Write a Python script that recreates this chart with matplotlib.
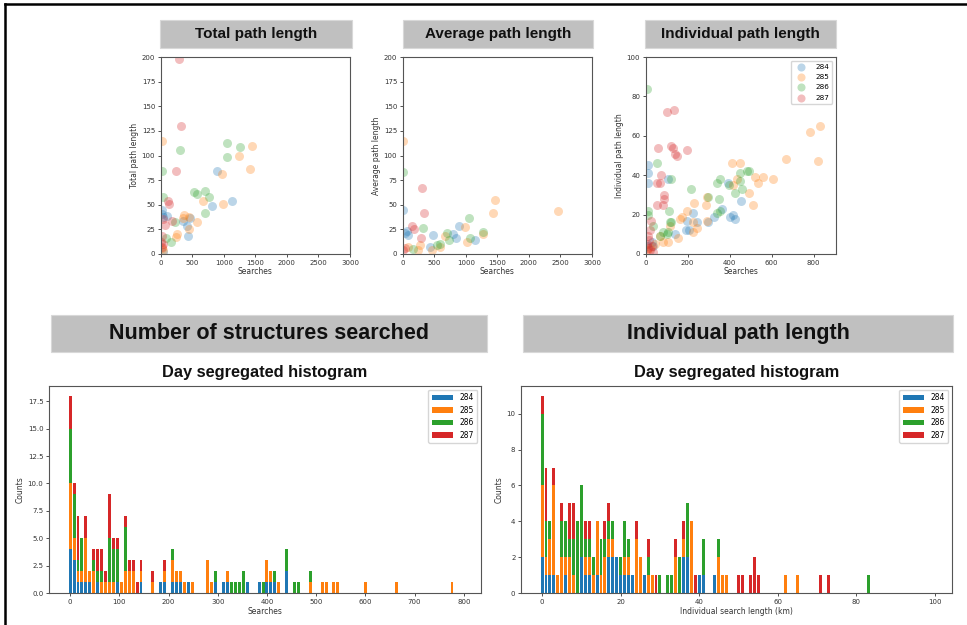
import numpy as np
import matplotlib
matplotlib.use("Agg")
import matplotlib.pyplot as plt
from matplotlib.patches import Rectangle

W, H = 967, 625
days = ["284", "285", "286", "287"]
colors = ["#1f77b4", "#ff7f0e", "#2ca02c", "#d62728"]

# ---- scatter: total path length vs searches ----
tot_x = {
    "284": [887, 814, 1125, 470, 412, 428, 349, 16, 42, 95, 16, 32],
    "285": [16, 1442, 1247, 1416, 977, 993, 666, 581, 370, 359, 454, 454, 254, 243, 16, 32],
    "286": [16, 306, 1046, 1056, 1257, 528, 581, 703, 771, 703, 42, 227, 164, 85],
    "287": [296, 322, 243, 111, 137, 69, 40, 174, 16, 16, 10, 30],
}
tot_y = {
    "284": [84, 49, 54, 37, 28, 18, 33, 45, 38, 39, 41, 2],
    "285": [115, 110, 100, 86, 81, 51, 54, 32, 40, 37, 38, 25, 20, 17, 6, 4],
    "286": [84, 106, 113, 98, 109, 63, 61, 64, 58, 42, 58, 32, 12, 16],
    "287": [198, 130, 84, 54, 51, 29, 36, 33, 18, 7, 12, 10],
}

# ---- scatter: average path length vs searches ----
avg_x = {
    "284": [11, 899, 841, 1138, 476, 63, 79, 37, 794, 434],
    "285": [0, 1455, 1429, 2460, 989, 1016, 1265, 672, 593, 460, 249, 275, 90],
    "286": [11, 1058, 328, 698, 740, 593, 1069, 1270, 159, 545],
    "287": [302, 333, 148, 175, 296, 37, 11],
}
avg_y = {
    "284": [45, 28, 16, 14, 19, 23, 19, 21, 20, 7],
    "285": [115, 55, 42, 44, 27, 12, 20, 18, 7, 4, 4, 9, 7],
    "286": [83, 37, 26, 21, 14, 10, 16, 22, 5, 9],
    "287": [67, 42, 28, 25, 16, 6, 4],
}

# ---- scatter: individual path length vs searches ----
ind_x = {
    "284": [10, 13, 10, 108, 394, 402, 418, 426, 453, 224, 199, 192, 204, 243, 299, 323, 363, 140, 29, 5, 37],
    "285": [831, 781, 820, 669, 606, 558, 521, 537, 490, 513, 450, 410, 434, 418, 232, 291, 288, 291,
            243, 224, 199, 172, 164, 156, 116, 21, 45, 5, 84, 108, 68, 227],
    "286": [8, 56, 119, 215, 299, 339, 355, 351, 399, 426, 450, 482, 494, 458, 450, 111, 119, 116,
            13, 13, 37, 100, 84, 68, 339, 355, 108],
    "287": [100, 135, 60, 121, 129, 140, 148, 196, 73, 68, 56, 87, 87, 52, 84, 21, 25, 13, 5, 10,
            21, 37, 15, 30],
}
ind_y = {
    "284": [45, 41, 36, 38, 36, 19, 20, 18, 27, 21, 17, 12, 12, 16, 16, 19, 23, 10, 6, 4, 4],
    "285": [65, 62, 47, 48, 38, 39, 39, 36, 31, 25, 46, 46, 38, 35, 26, 29, 25, 17,
            13, 11, 22, 19, 18, 8, 14, 3, 5, 2, 6, 6, 9, 16],
    "286": [84, 46, 38, 33, 29, 36, 38, 28, 35, 31, 41, 42, 42, 33, 37, 22, 16, 16,
            22, 20, 14, 10, 11, 9, 21, 22, 11],
    "287": [72, 73, 54, 55, 54, 51, 50, 53, 40, 36, 36, 30, 28, 25, 25, 12, 17, 9, 5, 3,
            2, 1, 7, 4],
}

# ---- histogram: number of structures searched (bin width 8) ----
srch_bins = [0, 1, 2, 3, 4, 5, 6, 7, 8, 9, 10, 11, 12, 13, 14, 15, 16, 17, 18, 21, 23, 24, 26, 27,
             28, 29, 30, 31, 35, 36, 37, 39, 40, 41, 42, 43, 44, 45, 48, 49, 50, 51, 52, 53, 55,
             57, 58, 61, 64, 65, 67, 68, 75, 83, 97]
srch_284 = [4, 3, 1, 1, 1, 1, 0, 1, 0, 0, 0, 0, 1, 0, 0, 0, 0, 0, 1, 0, 1, 1, 1, 1,
            1, 0, 1, 0, 0, 0, 1, 1, 1, 0, 0, 0, 0, 1, 1, 0, 1, 1, 1, 0, 2,
            0, 0, 0, 0, 0, 0, 0, 0, 0, 0]
srch_285 = [6, 2, 1, 1, 4, 1, 2, 0, 1, 1, 1, 1, 0, 1, 2, 2, 2, 0, 1, 1, 0, 1, 2, 1,
            1, 1, 0, 1, 3, 1, 0, 0, 1, 0, 0, 0, 0, 0, 0, 0, 2, 1, 0, 1, 0,
            0, 0, 1, 1, 1, 1, 1, 1, 1, 1]
srch_286 = [5, 4, 1, 3, 0, 0, 1, 1, 1, 0, 4, 3, 3, 0, 4, 0, 0, 0, 0, 0, 0, 0, 1, 0,
            0, 0, 0, 0, 0, 0, 1, 0, 0, 1, 1, 1, 2, 0, 0, 1, 0, 0, 1, 0, 2,
            1, 1, 1, 0, 0, 0, 0, 0, 0, 0]
srch_287 = [3, 1, 4, 0, 2, 0, 1, 2, 2, 1, 4, 1, 1, 0, 1, 1, 1, 1, 1, 1, 0, 1, 0, 0,
            0, 0, 0, 0, 0, 0, 0, 0, 0, 0, 0, 0, 0, 0, 0, 0, 0, 0, 0, 0, 0,
            0, 0, 0, 0, 0, 0, 0, 0, 0, 0]

# ---- histogram: individual path length (bin width 1 km) ----
len_bins = [0, 1, 2, 3, 4, 5, 6, 7, 8, 9, 10, 11, 12, 13, 14, 15, 16, 17, 18, 19, 20, 21, 22, 23,
            24, 25, 26, 27, 28, 29, 30, 32, 33, 34, 35, 36, 37, 38, 39, 40, 41, 44, 45, 46, 47,
            50, 51, 53, 54, 55, 62, 65, 71, 73, 83]
len_284 = [2, 1, 1, 1, 0, 0, 1, 0, 0, 0, 2, 1, 1, 0, 1, 0, 0, 2, 2, 2, 1, 1, 1, 1,
           0, 0, 1, 0, 0, 0, 0, 0, 0, 0, 0, 2, 2, 0, 0, 1, 1, 1, 0, 0, 0,
           0, 0, 0, 0, 0, 0, 0, 0, 0, 0]
len_285 = [4, 1, 2, 5, 1, 2, 1, 2, 1, 0, 0, 1, 1, 1, 3, 1, 2, 1, 1, 0, 0, 1, 1, 0,
           3, 2, 0, 1, 1, 0, 0, 0, 0, 2, 0, 1, 0, 4, 0, 0, 0, 0, 2, 1, 1,
           0, 0, 0, 0, 0, 1, 1, 0, 0, 0]
len_286 = [4, 2, 1, 0, 0, 2, 2, 1, 2, 4, 4, 1, 1, 1, 0, 2, 1, 1, 1, 0, 1, 2, 1, 0,
           0, 0, 0, 1, 0, 0, 1, 1, 1, 0, 2, 0, 3, 0, 0, 0, 2, 0, 1, 0, 0,
           0, 0, 0, 0, 0, 0, 0, 0, 0, 1]
len_287 = [1, 3, 0, 1, 0, 1, 0, 2, 2, 0, 0, 1, 1, 0, 0, 0, 1, 1, 0, 0, 0, 0, 0, 0,
           1, 0, 0, 1, 0, 1, 0, 0, 0, 1, 0, 1, 0, 0, 1, 0, 0, 0, 0, 0, 0,
           1, 1, 1, 2, 1, 0, 0, 1, 1, 0]


def px_box(x0, y0, x1, y1):
    # pixel box (top-left origin) -> figure fraction [left, bottom, width, height]
    return [x0 / W, 1 - y1 / H, (x1 - x0) / W, (y1 - y0) / H]


def banner(fig, x0, y0, x1, y1, text, size):
    l, b, w, h = px_box(x0, y0, x1, y1)
    fig.add_artist(Rectangle((l, b), w, h, transform=fig.transFigure,
                             facecolor="#c0c0c0", edgecolor="#d8d8d8", lw=0.8))
    fig.text(l + w / 2, b + h / 2, text, ha="center", va="center", fontsize=size,
             fontweight="bold", family="Liberation Sans", color="#111111")


def style_axes(ax, tick_size=5):
    for sp in ax.spines.values():
        sp.set_color("#555555")
        sp.set_linewidth(0.8)
    ax.tick_params(labelsize=tick_size, length=2.5, width=0.6, pad=1.5,
                   colors="#333333")


plt.rcParams["font.family"] = "DejaVu Sans"
fig = plt.figure(figsize=(W / 100, H / 100), dpi=100)
fig.patch.set_facecolor("white")

# page border (left and top edges)
fig.add_artist(plt.Line2D([5 / W, 5 / W], [0, 1 - 4 / H], transform=fig.transFigure,
                          color="black", lw=1.8))
fig.add_artist(plt.Line2D([5 / W, 1], [1 - 4 / H, 1 - 4 / H], transform=fig.transFigure,
                          color="black", lw=1.8))

# ---- top scatter panels ----
scatter_specs = [
    ((160.7, 57, 350, 254), (160, 20, 352, 48), "Total path length", tot_x, tot_y,
     (0, 3000), (0, 200), np.arange(0, 3001, 500), np.arange(0, 201, 25)),
    ((402.7, 57, 592, 254), (403, 20, 593, 48), "Average path length", avg_x, avg_y,
     (0, 3000), (0, 200), np.arange(0, 3001, 500), np.arange(0, 201, 25)),
    ((645.7, 57, 835.7, 254), (645, 20, 836, 48), "Individual path length", ind_x, ind_y,
     (0, 905), (0, 100), np.arange(0, 801, 200), np.arange(0, 101, 20)),
]

for i, (abox, bbox, title, xs, ys, xl, yl, xt, yt) in enumerate(scatter_specs):
    ax = fig.add_axes(px_box(*abox))
    for d, c in zip(days, colors):
        ax.scatter(xs[d], ys[d], s=42, color=c, alpha=0.3, linewidths=0, label=d)
    ax.set_xlim(*xl)
    ax.set_ylim(*yl)
    ax.set_xticks(xt)
    ax.set_yticks(yt)
    ax.set_xlabel("Searches", fontsize=5.5, labelpad=1, color="#333333")
    ax.set_ylabel(title, fontsize=5.5, labelpad=2, color="#333333")
    style_axes(ax)
    banner(fig, *bbox, title, 11)
    if i == 2:
        ax.legend(loc="upper right", fontsize=5.2, handletextpad=1.0, borderpad=0.4,
                  labelspacing=0.6, markerscale=0.9)

# ---- bottom histograms ----
hist_specs = [
    ((49, 386, 481, 593), (51, 315, 487, 352), "Number of structures searched",
     srch_bins, [srch_284, srch_285, srch_286, srch_287], 8, "Searches",
     np.arange(0, 801, 100), np.arange(0, 17.6, 2.5)),
    ((521, 386, 952, 593), (523, 315, 953, 352), "Individual path length",
     len_bins, [len_284, len_285, len_286, len_287], 1, "Individual search length (km)",
     np.arange(0, 101, 20), np.arange(0, 11, 2)),
]

for abox, bbox, title, bins, counts, width, xlabel, xt, yt in hist_specs:
    ax = fig.add_axes(px_box(*abox))
    centers = np.array(bins) * width
    edges = np.arange(-width / 2, 100 * width, width)
    ax.hist([centers] * 4, bins=edges, weights=counts, stacked=True, rwidth=0.75,
            color=colors, label=days)
    ax.set_xticks(xt)
    ax.set_yticks(yt)
    if width == 8:
        ax.set_yticklabels([f"{v:.1f}" for v in yt])
    ax.set_xlabel(xlabel, fontsize=5.5, labelpad=2, color="#333333")
    ax.set_ylabel("Counts", fontsize=5.5, labelpad=2, color="#333333")
    style_axes(ax)
    ax.legend(loc="upper right", fontsize=5.5, handlelength=2.8, borderpad=0.45,
              labelspacing=0.45)
    banner(fig, *bbox, title, 15.5)
    l, b, w, h = px_box(*abox)
    fig.text(l + w / 2, 1 - 373 / H, "Day segregated histogram", ha="center", va="center",
             fontsize=11.8, fontweight="bold", family="Liberation Sans", color="#111111")

fig.savefig("out.png", dpi=100, facecolor="white")
